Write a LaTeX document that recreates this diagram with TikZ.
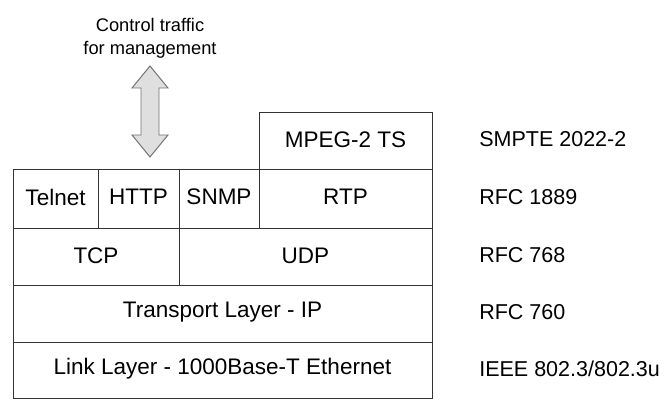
\documentclass[tikz,border=0pt]{standalone}
\usepackage{fontspec}
\setmainfont{Liberation Sans}
\tikzset{
  layer/.style={draw=black!80, line width=0.7pt},
  lbl/.style={font=\fontsize{16}{19}\selectfont, inner sep=0pt},
  std/.style={font=\fontsize{15.3}{18}\selectfont, inner sep=0pt, anchor=west},
}
\begin{document}
\begin{tikzpicture}[x=0.025cm, y=-0.025cm]
 \useasboundingbox (0,0) rectangle (666,400);
 % protocol stack
 \draw[layer] (259,112) rectangle (432,169);
 \draw[layer] (13,169) rectangle (432,398);
 \draw[layer] (13,228) -- (432,228);
 \draw[layer] (13,285) -- (432,285);
 \draw[layer] (13,342) -- (432,342);
 \draw[layer] (98,169) -- (98,228);
 \draw[layer] (179,169) -- (179,285);
 \draw[layer] (259,169) -- (259,228);
 \node[lbl] (mpeg) at (345.5,139.5) {MPEG-2 TS};
 \node[lbl] (telnet) at (55.5,197) {Telnet};
 \node[lbl] (http) at (138.5,197) {HTTP};
 \node[lbl] (snmp) at (219,197) {SNMP};
 \node[lbl] (rtp) at (345.5,197) {RTP};
 \node[lbl] (tcp) at (96,255.5) {TCP};
 \node[lbl] (udp) at (305.5,255.5) {UDP};
 \node[lbl] (ip) at (222.5,312.5) {Transport Layer - IP};
 \node[lbl] (link) at (222.5,369) {Link Layer - 1000Base-T Ethernet};
 % standards
 \node[std] (smpte) at (479,139.5) {SMPTE 2022-2};
 \node[std] (rfc1889) at (479,197) {RFC 1889};
 \node[std] (rfc768) at (479,255.5) {RFC 768};
 \node[std] (rfc760) at (479,312.5) {RFC 760};
 \node[std] (ieee) at (479,369) {IEEE 802.3/802.3u};
 % management traffic
 \node[font=\fontsize{13}{16.5}\selectfont, align=center, inner sep=0pt] (ctrl) at (150,38)
   {Control traffic\\for management};
 \draw[fill=gray!25, draw=black!55, line width=0.7pt]
   (150,66) -- (168,88) -- (159,88) -- (159,135) -- (168,135) -- (150,157)
   -- (132,135) -- (141,135) -- (141,88) -- (132,88) -- cycle;
\end{tikzpicture}
\end{document}
